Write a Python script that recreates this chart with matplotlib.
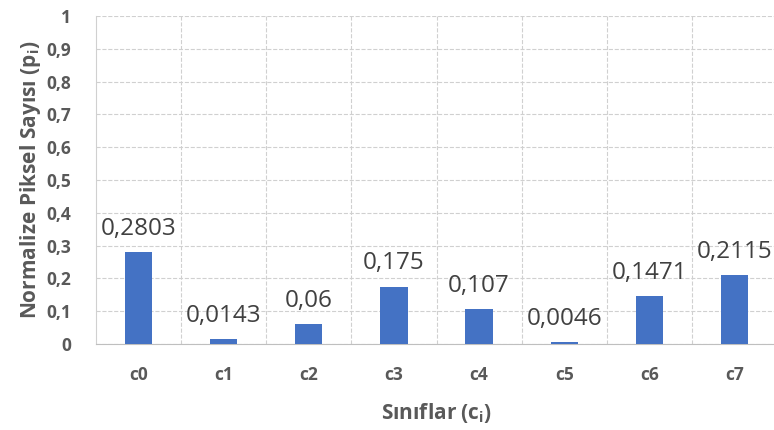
import matplotlib.pyplot as plt
import numpy as np

# class labels and normalized pixel counts
classes = ['c0', 'c1', 'c2', 'c3', 'c4', 'c5', 'c6', 'c7']
values = [0.2803, 0.0143, 0.06, 0.175, 0.107, 0.0046, 0.1471, 0.2115]
value_labels = ['0,2803', '0,0143', '0,06', '0,175', '0,107', '0,0046', '0,1471', '0,2115']
yticks = [0, 0.1, 0.2, 0.3, 0.4, 0.5, 0.6, 0.7, 0.8, 0.9, 1]
ytick_labels = ['0', '0,1', '0,2', '0,3', '0,4', '0,5', '0,6', '0,7', '0,8', '0,9', '1']

plt.rcParams['font.family'] = ['Open Sans', 'DejaVu Sans']

fig = plt.figure(figsize=(7.74, 4.30), dpi=100)
ax = fig.add_axes([96/774, 86/430, 681/774, 328/430])

x = np.arange(len(classes))
bars = ax.bar(x, values, width=0.32, color='#4472C4', zorder=3)

for b, lab in zip(bars, value_labels):
    ax.annotate(lab, (b.get_x() + b.get_width()/2, b.get_height()),
                xytext=(0, 8), textcoords='offset points',
                ha='center', va='bottom', fontsize=17.5, color='#404040')

ax.set_xlim(-0.5, len(classes) - 0.5)
ax.set_ylim(0, 1)
ax.set_xticks(x)
ax.set_xticklabels(classes, fontsize=12.5, fontweight='bold', color='#595959')
ax.set_yticks(yticks)
ax.set_yticklabels(ytick_labels, fontsize=12.5, fontweight='bold', color='#595959')
ax.set_xticks(np.arange(0.5, len(classes) - 0.5, 1), minor=True)
ax.tick_params(axis='both', which='both', length=0)
ax.tick_params(axis='y', pad=18)
ax.tick_params(axis='x', pad=16)

ax.grid(axis='y', which='major', color='#d0d0d0', linestyle='--', linewidth=0.8, zorder=0)
ax.grid(axis='x', which='minor', color='#d0d0d0', linestyle='--', linewidth=0.8, zorder=0)

for s in ['top', 'right']:
    ax.spines[s].set_visible(False)
ax.spines['left'].set_color('#d0d0d0')
ax.spines['bottom'].set_color('#bfbfbf')

ax.set_xlabel('Sınıflar (c$_\\mathregular{i}$)', fontsize=15, fontweight='bold',
              color='#595959', labelpad=12)
ax.set_ylabel('Normalize Piksel Sayısı (p$_\\mathregular{i}$)', fontsize=15,
              fontweight='bold', color='#595959', labelpad=2)

plt.savefig('out.png', dpi=100)
